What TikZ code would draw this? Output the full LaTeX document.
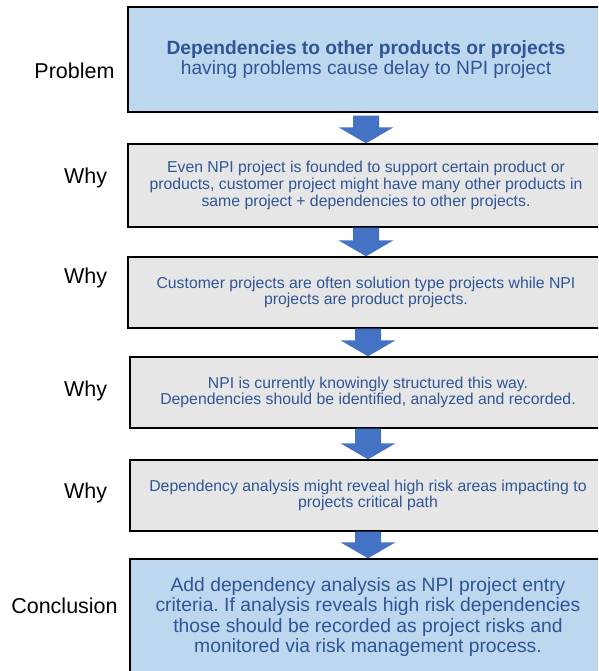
\documentclass[tikz,border=0pt]{standalone}
\usepackage{fontspec}
\setmainfont{Liberation Sans}
\usetikzlibrary{calc}
\frenchspacing
\definecolor{probfill}{HTML}{BDD7EE}
\definecolor{whyfill}{HTML}{E7E6E6}
\definecolor{boxtext}{HTML}{2F5597}
\definecolor{arrowblue}{HTML}{4472C4}
\tikzset{
  stagebox/.style={draw=black, line width=1.4pt, minimum width=476pt,
    inner sep=0pt, align=center, text=boxtext},
  bluebox/.style={stagebox, fill=probfill},
  graybox/.style={stagebox, fill=whyfill,
    font=\fontsize{15.8}{16.8}\selectfont},
  stagelabel/.style={anchor=base, inner sep=0pt, text=black,
    font=\fontsize{21.5}{24}\selectfont},
}
% block arrow from the bottom of #1 down to the top of #2, starting #3pt below #1
\newcommand\stagearrow[3]{%
  \fill[arrowblue] let \p1=(#2.north), \p2=(#1.south) in
    (\x1-13pt,\y2-#3pt) -- (\x1+13pt,\y2-#3pt) -- (\x1+13pt,\y1+16pt)
    -- (\x1+27.5pt,\y1+16pt) -- (\x1,\y1) -- (\x1-27.5pt,\y1+16pt)
    -- (\x1-13pt,\y1+16pt) -- cycle;}
\begin{document}
\begin{tikzpicture}[x=1pt,y=-1pt]
\useasboundingbox (0,0) rectangle (598,671);
\clip (0,0) rectangle (598,671);

% stage boxes
\node[bluebox, minimum height=105pt] (problem) at (366,59.5)
  {{\fontsize{19.2}{22}\selectfont\bfseries Dependencies to other products or projects}\\[1pt]
   {\fontsize{19.2}{22}\selectfont having problems cause delay to NPI project}};
\node[graybox, minimum height=83pt] (why1) at (366,185.5)
  {Even NPI project is founded to support certain product or\\
   products, customer project might have many other products in\\
   same project + dependencies to other projects.};
\node[graybox, minimum height=71pt] (why2) at (366,292.5)
  {Customer projects are often solution type projects while NPI\\
   projects are product projects.};
\node[graybox, minimum height=71pt] (why3) at (368,392.5)
  {NPI is currently knowingly structured this way.\\
   Dependencies should be identified, analyzed and recorded.};
\node[graybox, minimum height=71pt] (why4) at (368,495.5)
  {Dependency analysis might reveal high risk areas impacting to\\
   projects critical path};
\node[bluebox, minimum height=140pt] (concl) at (368,629) {};
\node[align=center, inner sep=0pt, text=boxtext,
  font=\fontsize{19.3}{20.4}\selectfont] (concltext) at (368,617)
  {Add dependency analysis as NPI project entry\\
   criteria. If analysis reveals high risk dependencies\\
   those should be recorded as project risks and\\
   monitored via risk management process.};

% arrows between stages
\stagearrow{problem}{why1}{3}
\stagearrow{why1}{why2}{0}
\stagearrow{why2}{why3}{0}
\stagearrow{why3}{why4}{0}
\stagearrow{why4}{concl}{0}

% stage labels
\node[stagelabel] (lproblem) at (74.5,79) {Problem};
\node[stagelabel] (lwhy1) at (85.5,183) {Why};
\node[stagelabel] (lwhy2) at (85.5,283) {Why};
\node[stagelabel] (lwhy3) at (85.5,396) {Why};
\node[stagelabel] (lwhy4) at (85.5,498) {Why};
\node[stagelabel] (lconcl) at (64.5,613) {Conclusion};
\end{tikzpicture}
\end{document}
